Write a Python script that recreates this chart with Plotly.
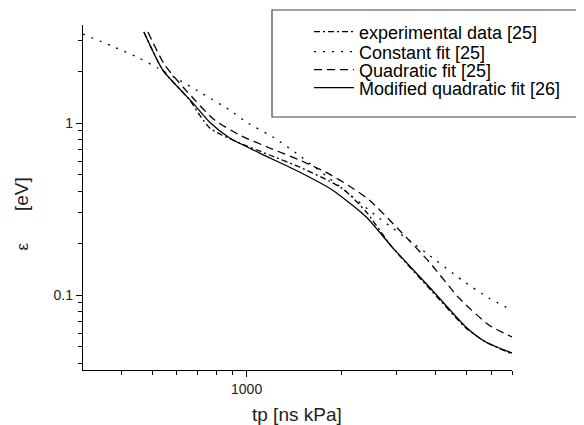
import plotly.graph_objects as go

# ---- data ----
exp_x = [471, 541, 659, 709, 763, 833, 950, 1183, 1473, 1834, 2048, 2404, 2906, 3893, 4991, 5778, 7000]
exp_y = [3.38, 2.03, 1.36, 1.11, 0.935, 0.852, 0.765, 0.652, 0.555, 0.460, 0.408, 0.304, 0.190, 0.105, 0.0643, 0.0533, 0.0454]

const_x = [301, 373, 454, 521, 626, 720, 883, 1000, 1227, 1495, 1973, 2643, 3727, 4850, 5905, 7000]
const_y = [3.29, 2.80, 2.39, 2.09, 1.73, 1.49, 1.19, 1.01, 0.818, 0.634, 0.430, 0.280, 0.176, 0.122, 0.096, 0.0818]

quad_x = [485, 549, 684, 791, 950, 1183, 1473, 1834, 2123, 2456, 3060, 3811, 4747, 5905, 7000]
quad_y = [3.38, 2.17, 1.36, 1.04, 0.852, 0.716, 0.610, 0.505, 0.430, 0.357, 0.239, 0.156, 0.096, 0.067, 0.057]

mod_x = [471, 541, 674, 763, 883, 1100, 1473, 1875, 2404, 2906, 3893, 4991, 5778, 7000]
mod_y = [3.38, 2.03, 1.31, 1.01, 0.818, 0.669, 0.519, 0.408, 0.284, 0.190, 0.107, 0.0652, 0.0533, 0.046]

names = ["experimental data [25]", "Constant fit [25]", "Quadratic fit [25]", "Modified quadratic fit [26]"]

x_major = [1000]
x_minor = [300, 400, 500, 600, 700, 800, 900, 2000, 3000, 4000, 5000, 6000, 7000]
y_major = [0.1, 1]
y_minor = [0.04, 0.05, 0.06, 0.07, 0.08, 0.09, 0.2, 0.3, 0.4, 0.5, 0.6, 0.7, 0.8, 0.9, 2, 3]

FONT = "Liberation Sans, Arial, sans-serif"
LEG_FONT = 18
W, H = 576, 417   # the page body adds an 8px offset, so the figure is shrunk by that amount

fig = go.Figure()
series = [
    (exp_x, exp_y, "6px,3px,2px,3px"),
    (const_x, const_y, "2px,7px"),
    (quad_x, quad_y, "8px,5px"),
    (mod_x, mod_y, "solid"),
]
legend_ids = ["legend", "legend2", "legend3", "legend4"]
for (xs, ys, dash), nm, lg in zip(series, names, legend_ids):
    fig.add_trace(go.Scatter(x=xs, y=ys, mode="lines", name=nm, legend=lg, showlegend=True,
                             line=dict(color="black", width=1.3, dash=dash, shape="spline", smoothing=0.6)))

axis_common = dict(type="log", showgrid=False, zeroline=False, showline=True,
                   linecolor="black", linewidth=1.3, ticks="outside", ticklen=6,
                   tickwidth=1.2, tickcolor="black", mirror=False,
                   tickfont=dict(family=FONT, size=14, color="#222"))

fig.update_xaxes(**axis_common, range=[2.479, 3.845], tickvals=x_major, ticktext=["1000"],
                 minor=dict(tickvals=x_minor, ticks="outside", ticklen=4, tickwidth=1.2, tickcolor="black"))
fig.update_yaxes(**axis_common, range=[-1.436, 0.570], tickvals=y_major, ticktext=["0.1", "1"],
                 minor=dict(tickvals=y_minor, ticks="outside", ticklen=4, tickwidth=1.2, tickcolor="black"))

row_px = [32, 52, 70, 88]
legends = {}
for lg, ry in zip(legend_ids, row_px):
    legends[lg] = dict(xref="container", yref="container",
                       x=301 / W, y=1 - (ry - 8) / H, xanchor="left", yanchor="middle",
                       bgcolor="rgba(0,0,0,0)", borderwidth=0, itemwidth=40,
                       font=dict(family=FONT, size=LEG_FONT, color="black"))

fig.update_layout(
    width=W, height=H,
    margin=dict(l=75, r=72, t=17, b=55, autoexpand=False),
    paper_bgcolor="white", plot_bgcolor="white",
    showlegend=True,
    font=dict(family=FONT, size=15, color="black"),
    shapes=[dict(type="rect", xref="paper", yref="paper",
                 x0=(272 - 83) / 429, x1=(582 - 83) / 429, y0=(370 - 117) / 345, y1=(370 - 10) / 345,
                 line=dict(color="#444", width=1.2), fillcolor="rgba(0,0,0,0)")],
    annotations=[
        dict(text="tp [ns kPa]", xref="paper", yref="paper", x=(297 - 83) / 429, y=(370 - 415) / 345,
             showarrow=False, font=dict(family=FONT, size=19, color="#222"), xanchor="center", yanchor="middle"),
        dict(text="[eV]", xref="paper", yref="paper", x=(21.5 - 83) / 429, y=(370 - 194.5) / 345,
             showarrow=False, textangle=-90, font=dict(family=FONT, size=19, color="#222"),
             xanchor="center", yanchor="middle"),
        dict(text="ε", xref="paper", yref="paper", x=(21.5 - 83) / 429, y=(370 - 247) / 345,
             showarrow=False, textangle=-90, font=dict(family=FONT, size=17, color="#222"),
             xanchor="center", yanchor="middle"),
    ],
    **legends,
)

fig.write_html("out.html")
